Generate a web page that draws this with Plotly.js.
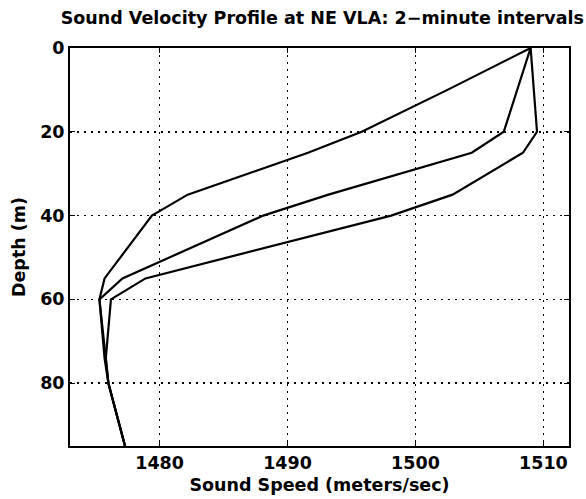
<!DOCTYPE html>
<html>
<head>
<meta charset="utf-8">
<script src="https://cdn.plot.ly/plotly-3.0.1.min.js"></script>
<style>html,body{margin:0;padding:0;background:#fff;}#chart{width:586px;height:499px;}</style>
</head>
<body>
<div id="chart"></div>
<script>
// Depths (m) of profile points
const depthA = [0, 10, 20, 25, 35, 40, 55, 60, 74, 80, 95];
const speedA = [1509, 1502.5, 1495.8, 1491.6, 1482.2, 1479.4, 1475.7, 1475.3, 1475.7, 1476.0, 1477.3];

const depthB = [0, 20, 25, 35, 40, 55, 60, 74, 80, 95];
const speedB = [1509, 1506.9, 1504.4, 1493.2, 1488.1, 1477.1, 1475.3, 1475.8, 1476.0, 1477.3];

const depthC = [0, 20, 25, 35, 40, 55, 60, 74, 80, 95];
const speedC = [1509, 1509.5, 1508.4, 1502.9, 1498.1, 1478.9, 1476.2, 1475.8, 1476.0, 1477.3];

const xTicks = [1480, 1490, 1500, 1510];
const yTicks = [0, 20, 40, 60, 80];

const lineStyle = {color: '#000', width: 2.2};
const traces = [
  {x: speedA, y: depthA, mode: 'lines', line: lineStyle, hoverinfo: 'skip'},
  {x: speedB, y: depthB, mode: 'lines', line: lineStyle, hoverinfo: 'skip'},
  {x: speedC, y: depthC, mode: 'lines', line: lineStyle, hoverinfo: 'skip'}
];

const fontFam = '"DejaVu Sans", sans-serif';
const fs = 17.5;
const layout = {
  width: 586, height: 499,
  margin: {l: 70, r: 17, t: 48, b: 53},
  paper_bgcolor: '#fff', plot_bgcolor: '#fff',
  showlegend: false,
  font: {family: fontFam, color: '#000', size: fs, weight: 'bold'},
  title: {
    text: 'Sound Velocity Profile at NE VLA: 2\u2212minute intervals',
    font: {family: fontFam, size: fs, color: '#000', weight: 'bold'},
    x: 0.55, xanchor: 'center', y: 0.964, yanchor: 'middle'
  },
  xaxis: {
    range: [1473, 1512],
    tickvals: xTicks, ticktext: xTicks.map(String),
    ticks: 'inside', ticklen: 5, tickcolor: '#000', tickwidth: 1,
    showline: true, linecolor: '#000', linewidth: 2, mirror: 'ticks',
    showgrid: true, gridcolor: '#000', griddash: '2px,5px', gridwidth: 1.5,
    zeroline: false,
    tickfont: {family: fontFam, size: fs, color: '#000', weight: 'bold'},
    title: {text: 'Sound Speed (meters/sec)', standoff: 7,
            font: {family: fontFam, size: fs, color: '#000', weight: 'bold'}}
  },
  yaxis: {
    range: [95, 0],
    tickvals: yTicks, ticktext: yTicks.map(String),
    ticks: 'inside', ticklen: 5, tickcolor: '#000', tickwidth: 1,
    showline: true, linecolor: '#000', linewidth: 2, mirror: 'ticks',
    showgrid: true, gridcolor: '#000', griddash: '2px,5px', gridwidth: 1.5,
    zeroline: false,
    tickfont: {family: fontFam, size: fs, color: '#000', weight: 'bold'},
    title: {text: 'Depth (m)', standoff: 10,
            font: {family: fontFam, size: fs, color: '#000', weight: 'bold'}}
  }
};

Plotly.newPlot('chart', traces, layout, {staticPlot: true, displayModeBar: false});
</script>
</body>
</html>
